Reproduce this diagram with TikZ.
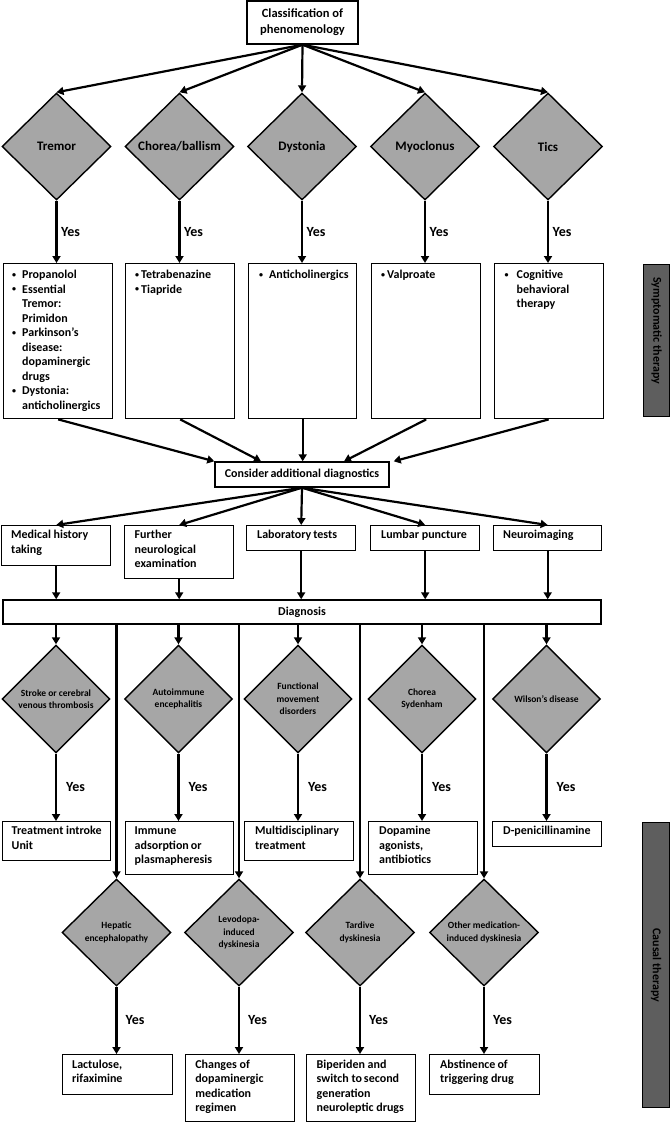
\documentclass[tikz,border=0pt]{standalone}
\usepackage{fontspec}
\setmainfont{Carlito}
\usetikzlibrary{shapes.geometric,arrows.meta,calc}
\definecolor{diagray}{RGB}{166,166,166}
\definecolor{sidegray}{RGB}{94,94,94}
\newcommand\lefttab[1]{\begin{tabular}[t]{@{}l@{}}#1\end{tabular}}
\newcommand\bultab[2]{\begin{tabular}[t]{@{}l@{\hspace{#1}}l@{}}#2\end{tabular}}
\newcommand\bul{\raisebox{1.5pt}{\fontsize{8}{8}\selectfont •}}
\begin{document}
\begin{tikzpicture}[x=1pt,y=-1pt,
  bx/.style={draw, line width=1.4pt, fill=white, inner sep=0, anchor=north west},
  cbx/.style={draw, line width=1.4pt, fill=white, inner sep=0, align=center,
    font=\fontsize{12}{15}\selectfont\bfseries},
  tx/.style={anchor=north west, inner sep=0, font=\fontsize{12}{14.5}\selectfont\bfseries},
  dia/.style={diamond, aspect=1, draw, line width=1.4pt, fill=diagray, inner sep=0,
    minimum width=109pt, minimum height=107pt, align=center},
  dbig/.style={dia, font=\fontsize{13}{15}\selectfont\bfseries},
  dsmall/.style={dia, font=\fontsize{9.5}{12.5}\selectfont\bfseries},
  arr/.style={line width=2.2pt, -{Triangle[length=7pt,width=8pt]}},
  yes/.style={anchor=west, inner sep=0, font=\fontsize{14}{16}\selectfont\bfseries},
  side/.style={draw, line width=1.4pt, fill=sidegray, inner sep=0, anchor=north west},
  sidetx/.style={rotate=-90, inner sep=0, font=\fontsize{12}{14}\selectfont\bfseries}
]
\useasboundingbox (0,0) rectangle (670,1122);

% top
\node[cbx, minimum width=111pt, minimum height=43pt, font=\fontsize{12.5}{16}\selectfont\bfseries] (top) at (302.5,22.5) {Classification of\\phenomenology};

% row 1 diamonds
\node[dbig] (d1) at (56.5,146.5) {Tremor};
\node[dbig] (d2) at (179.5,146.5) {Chorea/ballism};
\node[dbig] (d3) at (302,146.5) {Dystonia};
\node[dbig] (d4) at (425,146.5) {Myoclonus};
\node[dbig] (d5) at (548,146.5) {Tics};

% row 1 boxes
\node[bx, minimum width=109pt, minimum height=155pt] (b1) at (3,263) {};
\node[bx, minimum width=109pt, minimum height=155pt] (b2) at (125,263) {};
\node[bx, minimum width=108pt, minimum height=155pt] (b3) at (248,263) {};
\node[bx, minimum width=109pt, minimum height=155pt] (b4) at (371,263) {};
\node[bx, minimum width=109pt, minimum height=155pt] (b5) at (493.5,263) {};
\node[tx] (b1t) at ($(b1.north west)+(9,5.5)$) {\bultab{6pt}{\bul&Propanolol\\\bul&Essential\\&Tremor:\\&Primidon\\\bul&Parkinson’s\\&disease:\\&dopaminergic\\&drugs\\\bul&Dystonia:\\&anticholinergics}};
\node[tx] (b2t) at ($(b2.north west)+(10,5.5)$) {\bultab{2pt}{\bul&Tetrabenazine\\\bul&Tiapride}};
\node[tx] (b3t) at ($(b3.north west)+(11,5.5)$) {\bultab{6pt}{\bul&Anticholinergics}};
\node[tx] (b4t) at ($(b4.north west)+(10,5.5)$) {\bultab{2pt}{\bul&Valproate}};
\node[tx] (b5t) at ($(b5.north west)+(11,5.5)$) {\bultab{8pt}{\bul&Cognitive\\&behavioral\\&therapy}};

% side label 1
\node[side, minimum width=26pt, minimum height=152pt] (side1) at (643,264) {};
\node[sidetx] (side1t) at ($(side1.center)+(0,-10)$) {Symptomatic therapy};

% consider
\node[cbx, minimum width=174pt, minimum height=25pt] (cons) at (302,474.5) {Consider\,additional diagnostics};

% row 2 boxes
\node[bx, minimum width=109pt, minimum height=40pt] (m1) at (1,525) {};
\node[bx, minimum width=109pt, minimum height=53pt] (m2) at (124,525) {};
\node[bx, minimum width=109pt, minimum height=25pt] (m3) at (246,525) {};
\node[bx, minimum width=109pt, minimum height=25pt] (m4) at (370,525) {};
\node[bx, minimum width=108pt, minimum height=25pt] (m5) at (493,525) {};
\node[tx] (m1t) at ($(m1.north west)+(10,3.5)$) {\lefttab{Medical history\\taking}};
\node[tx] (m2t) at ($(m2.north west)+(10.5,3.5)$) {\lefttab{Further\\neurological\\examination}};
\node[tx] (m3t) at ($(m3.north west)+(11,3.5)$) {\lefttab{Laboratory\,tests}};
\node[tx] (m4t) at ($(m4.north west)+(11,3.5)$) {\lefttab{Lumbar puncture}};
\node[tx] (m5t) at ($(m5.north west)+(10,3.5)$) {\lefttab{Neuroimaging}};

% diagnosis
\node[cbx, minimum width=598pt, minimum height=24pt] (diag) at (302,612) {Diagnosis};

% row 3 diamonds
\node[dsmall, minimum width=108pt, minimum height=108pt] (c1) at (56,699) {Stroke or cerebral\\venous thrombosis};
\node[dsmall, minimum width=108pt, minimum height=108pt] (c2) at (178.5,699) {Autoimmune\\encephalitis};
\node[dsmall, minimum width=108pt, minimum height=108pt] (c3) at (298,699) {Functional\\movement\\disorders};
\node[dsmall, minimum width=108pt, minimum height=108pt] (c4) at (422,699) {Chorea\\Sydenham};
\node[dsmall, minimum width=108pt, minimum height=108pt] (c5) at (546.5,699) {Wilson’s disease};

% row 3 boxes
\node[bx, minimum width=108pt, minimum height=39pt] (r1) at (2,821) {};
\node[bx, minimum width=108pt, minimum height=53pt] (r2) at (125,821) {};
\node[bx, minimum width=109pt, minimum height=39pt] (r3) at (244,821) {};
\node[bx, minimum width=109pt, minimum height=53pt] (r4) at (368,821) {};
\node[bx, minimum width=109pt, minimum height=25pt] (r5) at (492,821) {};
\node[tx] (r1t) at ($(r1.north west)+(9.5,3.5)$) {\lefttab{Treatment introke\\Unit}};
\node[tx] (r2t) at ($(r2.north west)+(9.5,3.5)$) {\lefttab{Immune\\adsorption\,or\\plasmapheresis}};
\node[tx] (r3t) at ($(r3.north west)+(11,3.5)$) {\lefttab{Multidisciplinary\\treatment}};
\node[tx] (r4t) at ($(r4.north west)+(11,3.5)$) {\lefttab{Dopamine\\agonists,\\antibiotics}};
\node[tx] (r5t) at ($(r5.north west)+(11,3.5)$) {\lefttab{D-penicillinamine}};

% row 4 diamonds
\node[dsmall] (e1) at (116.5,932.5) {Hepatic\\encephalopathy};
\node[dsmall] (e2) at (239,932.5) {Levodopa-\\induced\\dyskinesia};
\node[dsmall] (e3) at (360,932.5) {Tardive\\dyskinesia};
\node[dsmall] (e4) at (484,932.5) {Other medication-\\induced dyskinesia};

% row 4 boxes
\node[bx, minimum width=110pt, minimum height=40pt] (s1) at (62,1054) {};
\node[bx, minimum width=109.4pt, minimum height=67pt] (s2) at (184.6,1054) {};
\node[bx, minimum width=109pt, minimum height=67pt] (s3) at (306,1054) {};
\node[bx, minimum width=110pt, minimum height=40pt] (s4) at (429,1054) {};
\node[tx] (s1t) at ($(s1.north west)+(10,4)$) {\lefttab{Lactulose,\\rifaximine}};
\node[tx] (s2t) at ($(s2.north west)+(10.5,4)$) {\lefttab{Changes of\\dopaminergic\\medication\\regimen}};
\node[tx] (s3t) at ($(s3.north west)+(10.5,4)$) {\lefttab{Biperiden and\\switch to\,second\\generation\\neuroleptic drugs}};
\node[tx] (s4t) at ($(s4.north west)+(11,4)$) {\lefttab{Abstinence\,of\\triggering drug}};

% side label 2
\node[side, minimum width=27pt, minimum height=285pt] (side2) at (642,822) {};
\node[sidetx] (side2t) at (side2.center) {Causal therapy};

% connectors
\foreach \i in {1,...,5} {
  \draw[arr] (top.south) -- (d\i.north);
  \draw[arr] (d\i.south) -- node[yes, xshift=3.5pt] (yd\i) {Yes} (d\i.south |- b\i.north);
  \draw[arr] (cons.south) -- (m\i.north);
  \draw[arr] (m\i.south) -- (m\i.south |- diag.north);
  \draw[arr] (c\i.north |- diag.south) -- (c\i.north);
  \draw[arr] (c\i.south) -- node[yes, xshift=9pt] (yc\i) {Yes} (c\i.south |- r\i.north);
}
\draw[arr] (b1.south) -- (cons.north west);
\draw[arr] (b2.south) -- ($(cons.north)+(-41,0)$);
\draw[arr] (b3.south) -- (b3.south |- cons.north);
\draw[arr] (b4.south) -- ($(cons.north)+(42,0)$);
\draw[arr] (b5.south) -- ($(cons.north east)+(4,0)$);
\foreach \i in {1,...,4} {
  \draw[arr] (e\i.north |- diag.south) -- (e\i.north);
  \draw[arr] (e\i.south) -- node[yes, xshift=8pt] (ye\i) {Yes} (e\i.south |- s\i.north);
}
\end{tikzpicture}
\end{document}
